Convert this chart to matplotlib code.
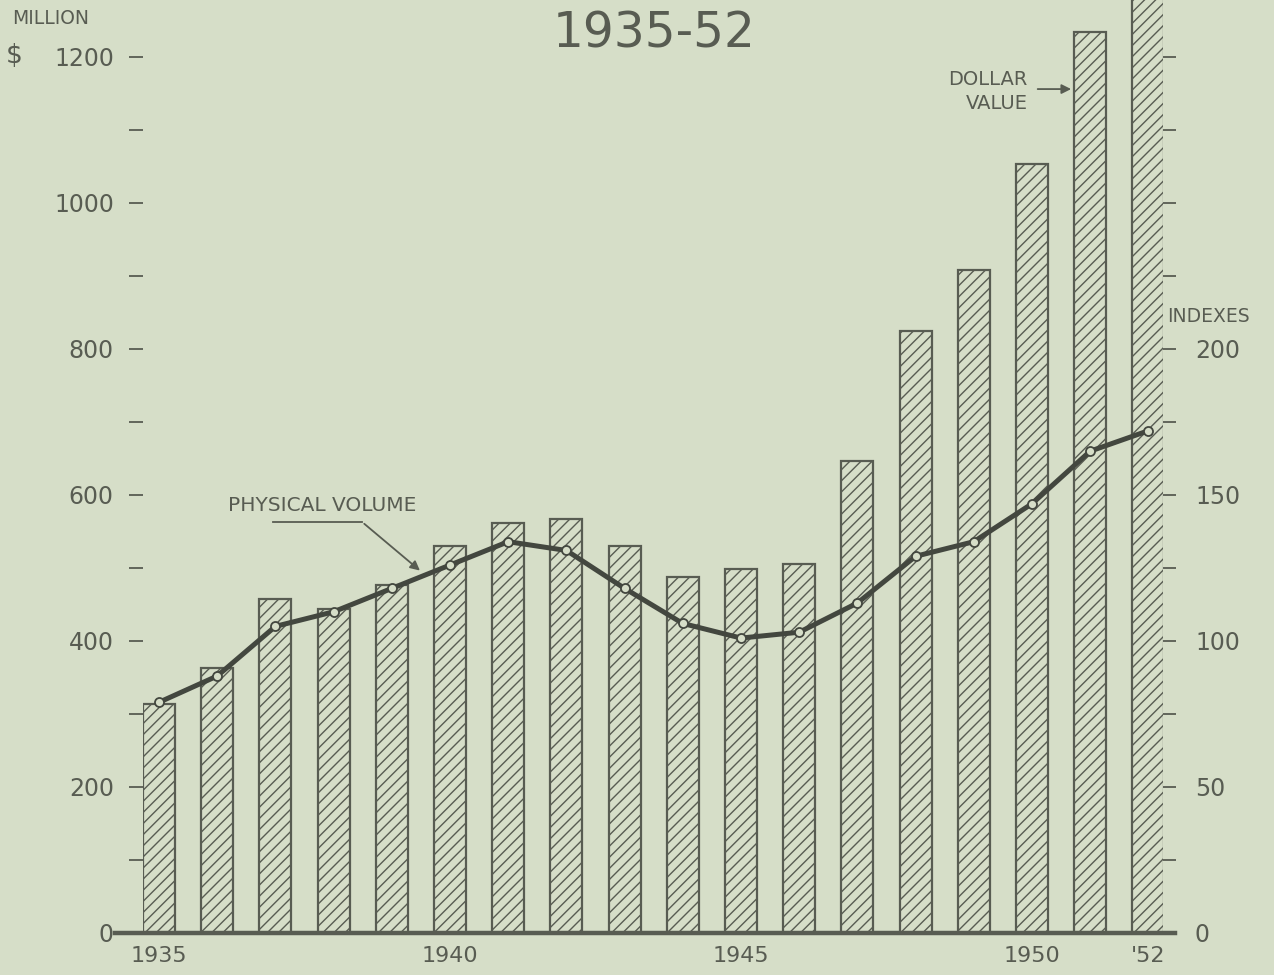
import numpy as np
import matplotlib.pyplot as plt

# datos
years = np.arange(1935, 1953)
dollar_value = [314, 363, 458, 444, 477, 530, 562, 567, 530, 488, 499, 505,
                647, 825, 908, 1053, 1234, 1330]
physical_volume = [79, 88, 105, 110, 118, 126, 134, 131, 118, 106, 101, 103,
                   113, 129, 134, 147, 165, 172]
year_ticks = [1935, 1940, 1945, 1950, 1952]
year_labels = ['1935', '1940', '1945', '1950', "'52"]

bg = '#d6dec8'
ink = '#585c52'
dark = '#43473f'

plt.rcParams['hatch.linewidth'] = 1.0
plt.rcParams['hatch.color'] = ink
plt.rcParams['font.family'] = 'DejaVu Sans'

fig = plt.figure(figsize=(12.74, 9.75), dpi=100, facecolor=bg)
ax = fig.add_axes([143 / 1274, 42 / 975, 1020 / 1274, 933 / 975])
ax.set_facecolor(bg)

ax.bar(years, dollar_value, width=0.55, facecolor=bg, edgecolor=ink,
       linewidth=1.6, hatch='///', zorder=2)

ax.set_xlim(1934.725, 1952.251)
ax.set_ylim(0, 1278)
for s in ax.spines.values():
    s.set_visible(False)

# linea base
ax.plot([1934.25, 1952.46], [0, 0], color=ink, lw=3.2, clip_on=False, zorder=5)

ax.set_yticks(np.arange(0, 1201, 200))
ax.set_yticks(np.arange(100, 1200, 200), minor=True)
ax.tick_params(axis='y', which='both', length=10, width=1.3, color=ink,
               labelsize=17, labelcolor=ink, pad=11)
ax.set_xticks(year_ticks)
ax.set_xticklabels(year_labels)
ax.tick_params(axis='x', length=0, labelsize=16, labelcolor=ink, pad=9)

ax2 = ax.twinx()
ax2.set_ylim(0, 1278 / 4)
for s in ax2.spines.values():
    s.set_visible(False)
ax2.set_yticks(np.arange(0, 201, 50))
ax2.set_yticks([25, 75, 125, 175, 225, 250, 275, 300], minor=True)
ax2.tick_params(axis='y', which='both', length=9, width=1.3, color=ink,
                labelsize=17, labelcolor=ink, pad=14)

ax2.plot(years, physical_volume, color=dark, lw=3.6, marker='o',
         markersize=6.5, markerfacecolor=bg, markeredgecolor=dark,
         markeredgewidth=1.3, zorder=4)

# anotaciones
ax.text(1937.80, 586, 'PHYSICAL VOLUME', fontsize=14.5, color=ink,
        ha='center', va='center')
ax.plot([1936.96, 1938.49], [563, 563], color=ink, lw=1.3)
ax.annotate('', xy=(1939.52, 494), xytext=(1938.49, 563),
            arrowprops=dict(arrowstyle='-|>', color=ink, lw=1.3,
                            mutation_scale=14))

ax.text(1949.93, 1153, 'DOLLAR\nVALUE', fontsize=14, color=ink,
        ha='right', va='center', linespacing=1.35,
        multialignment='right')
ax.annotate('', xy=(1950.72, 1156), xytext=(1950.05, 1156),
            arrowprops=dict(arrowstyle='-|>', color=ink, lw=1.3,
                            mutation_scale=14))

fig.text(654 / 1274, 1 - 33 / 975, '1935-52', fontsize=35, color=ink,
         ha='center', va='center')
fig.text(12 / 1274, 1 - 18 / 975, 'MILLION', fontsize=13.5, color=ink,
         ha='left', va='center')
fig.text(6 / 1274, 1 - 56 / 975, '$', fontsize=19, color=ink,
         ha='left', va='center')
fig.text(1167 / 1274, 1 - 316 / 975, 'INDEXES', fontsize=13.5, color=ink,
         ha='left', va='center')

fig.savefig('out.png', dpi=100, facecolor=bg)
